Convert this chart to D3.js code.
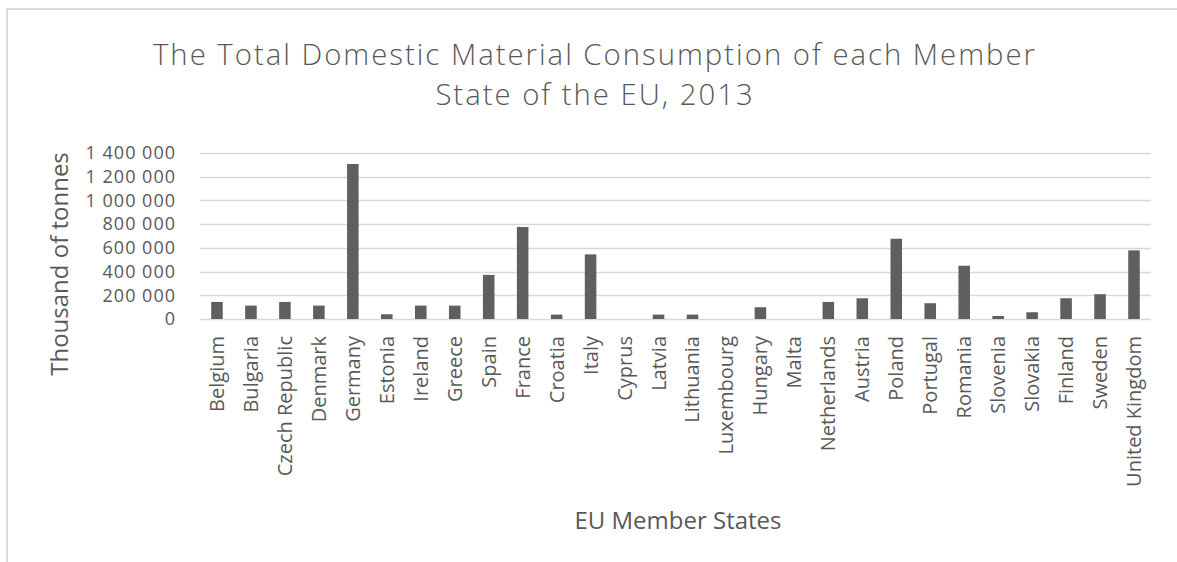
<!DOCTYPE html>
<html>
<head>
<meta charset="utf-8">
<script src="https://cdn.jsdelivr.net/npm/d3@7"></script>
<style>
  body { margin: 0; background: #fff; }
  text { font-family: "Open Sans", sans-serif; fill: #595959; }
</style>
</head>
<body>
<div id="chart"></div>
<script>
// Data (thousand tonnes)
const countries = ["Belgium", "Bulgaria", "Czech Republic", "Denmark", "Germany", "Estonia",
  "Ireland", "Greece", "Spain", "France", "Croatia", "Italy", "Cyprus", "Latvia", "Lithuania",
  "Luxembourg", "Hungary", "Malta", "Netherlands", "Austria", "Poland", "Portugal", "Romania",
  "Slovenia", "Slovakia", "Finland", "Sweden", "United Kingdom"];
const consumption = [144000, 113000, 144000, 113000, 1307000, 40000,
  113000, 113000, 372000, 776000, 37000, 545000, 0, 37000, 37000,
  0, 99000, 0, 144000, 175000, 677000, 133000, 449000,
  25000, 57000, 175000, 209000, 579000];
const yTicks = [0, 200000, 400000, 600000, 800000, 1000000, 1200000, 1400000];
const titleLines = ["The Total Domestic Material Consumption of each Member", "State of the EU, 2013"];

const W = 1177, H = 562;
const plot = { left: 200, right: 1151, top: 153, bottom: 319 };

const svg = d3.select("#chart").append("svg")
  .attr("width", W)
  .attr("height", H);

// Chart area border (only top and left visible in the crop)
svg.append("path")
  .attr("d", `M7,${H} V9 H${W}`)
  .attr("fill", "none")
  .attr("stroke", "#d9d9d9")
  .attr("stroke-width", 2);

// Title, two lines
svg.append("g").selectAll("text")
  .data(titleLines)
  .join("text")
  .attr("x", 595)
  .attr("y", (d, i) => 64.5 + i * 40)
  .attr("text-anchor", "middle")
  .attr("font-size", 29.3)
  .attr("font-weight", 300)
  .attr("letter-spacing", 2)
  .text(d => d);

const x = d3.scaleBand()
  .domain(countries)
  .range([plot.left, plot.right])
  .paddingInner(0.66)
  .paddingOuter(0.33);

const y = d3.scaleLinear()
  .domain([0, 1400000])
  .range([plot.bottom, plot.top]);

const locale = d3.formatLocale({ decimal: ",", thousands: "\u00a0", grouping: [3], currency: ["", ""] });
const fmt = locale.format(",d");

// Gridlines
svg.append("g").selectAll("line")
  .data(yTicks)
  .join("line")
  .attr("x1", plot.left)
  .attr("x2", plot.right)
  .attr("y1", d => Math.round(y(d)) + 0.5)
  .attr("y2", d => Math.round(y(d)) + 0.5)
  .attr("stroke", "#d9d9d9")
  .attr("stroke-width", 1.3);

// Y axis labels
const yAxis = svg.append("g")
  .attr("transform", `translate(${plot.left},0)`)
  .call(d3.axisLeft(y).tickValues(yTicks).tickFormat(fmt).tickSize(0).tickPadding(24));
yAxis.select(".domain").remove();
yAxis.selectAll("text")
  .attr("font-size", 18)
  .attr("letter-spacing", 1)
  .attr("fill", "#595959")
  .attr("font-family", "Open Sans, sans-serif");

// Bars
svg.append("g").selectAll("rect")
  .data(countries)
  .join("rect")
  .attr("x", d => x(d))
  .attr("width", x.bandwidth())
  .attr("y", (d, i) => y(consumption[i]))
  .attr("height", (d, i) => y(0) - y(consumption[i]))
  .attr("fill", "#5f5f5f");

// X axis labels (rotated)
svg.append("g").selectAll("text")
  .data(countries)
  .join("text")
  .attr("transform", d => `translate(${x(d) + x.bandwidth() / 2},336) rotate(-90)`)
  .attr("text-anchor", "end")
  .attr("dy", "0.35em")
  .attr("font-size", 20)
  .text(d => d);

// Axis titles
svg.append("text")
  .attr("transform", "translate(60,264) rotate(-90)")
  .attr("text-anchor", "middle")
  .attr("dy", "0.35em")
  .attr("font-size", 24)
  .text("Thousand of tonnes");

svg.append("text")
  .attr("x", 678)
  .attr("y", 529)
  .attr("text-anchor", "middle")
  .attr("font-size", 24)
  .text("EU Member States");
</script>
</body>
</html>
